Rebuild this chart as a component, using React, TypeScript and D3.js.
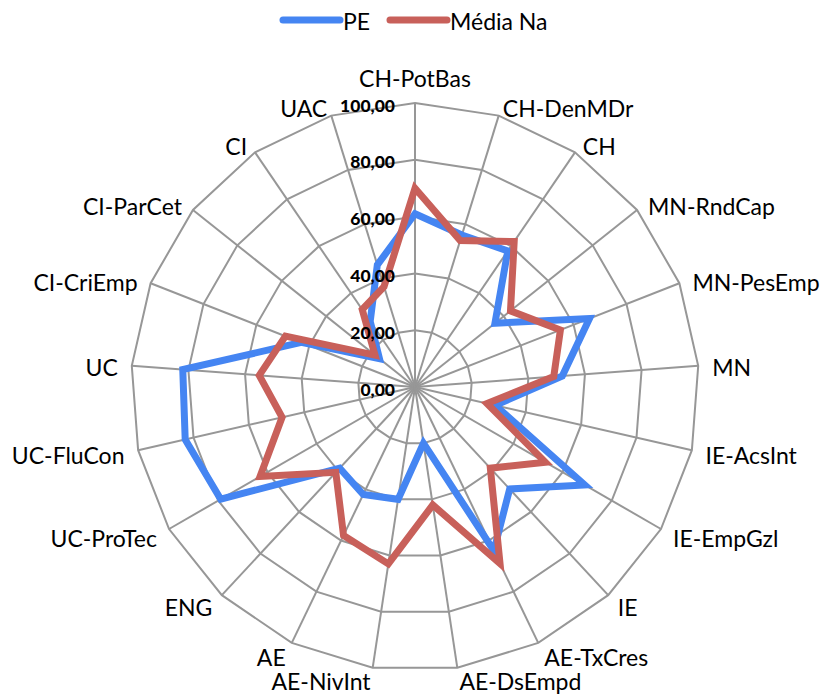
import React from 'react';
import * as d3 from 'd3';

// Indicator axes, clockwise from the top
const categories = [
  'CH-PotBas', 'CH-DenMDr', 'CH', 'MN-RndCap', 'MN-PesEmp', 'MN', 'IE-AcsInt',
  'IE-EmpGzl', 'IE', 'AE-TxCres', 'AE-DsEmpd', 'AE-NivInt', 'AE', 'ENG',
  'UC-ProTec', 'UC-FluCon', 'UC', 'CI-CriEmp', 'CI-ParCet', 'CI', 'UAC',
];

// Series values (0–100)
const pe = [61, 56, 58, 36, 66, 52, 29, 69, 49, 64, 20, 40, 42, 39, 79, 83, 82, 43, 16, 28, 45];
const mediaNa = [70, 54, 62, 43, 55, 49, 26, 53, 39, 69, 42, 63, 58, 41, 63, 48, 55, 49, 18, 33, 37];

// Radial axis ticks
const ticks = [0, 20, 40, 60, 80, 100];
const tickLabels = ['0,00', '20,00', '40,00', '60,00', '80,00', '100,00'];

const series = [
  { name: 'PE', values: pe, color: '#4585F2' },
  { name: 'Média Na', values: mediaNa, color: '#C8605A' },
];

const W = 827;
const H = 696;
const CX = 415;
const CY = 387;
const RADIUS = 284;
const FONT = 'Lato, "Open Sans", sans-serif';
const GRID = '#979797';
const LABEL_SIZE = 23;

export default function App() {
  const n = categories.length;
  const angle = d3.scaleLinear().domain([0, n]).range([0, 2 * Math.PI]);
  const r = d3.scaleLinear().domain([0, 100]).range([0, RADIUS]);

  const ringPath = (v: number) =>
    d3
      .lineRadial<string>()
      .angle((_, i) => angle(i))
      .radius(() => r(v))
      .curve(d3.curveLinearClosed)(categories) as string;

  const seriesPath = (vals: number[]) =>
    d3
      .lineRadial<number>()
      .angle((_, i) => angle(i))
      .radius((d) => r(d))
      .curve(d3.curveLinearClosed)(vals) as string;

  // lowest label centre that still keeps descenders inside the canvas
  const maxLabelY = H - CY - 15;

  return (
    <svg
      width={W}
      height={H}
      style={{ position: 'absolute', left: 0, top: 0, background: '#fff' }}
      fontFamily={FONT}
    >
      {/* Legend */}
      <g>
        <line x1={283} x2={340} y1={20} y2={20} stroke={series[0].color} strokeWidth={7} strokeLinecap="round" />
        <text x={343} y={21} dominantBaseline="central" fontSize={LABEL_SIZE} fill="#000">
          {series[0].name}
        </text>
        <line x1={390} x2={447} y1={20} y2={20} stroke={series[1].color} strokeWidth={7} strokeLinecap="round" />
        <text x={450} y={21} dominantBaseline="central" fontSize={LABEL_SIZE} fill="#000">
          {series[1].name}
        </text>
      </g>

      <g transform={`translate(${CX},${CY})`}>
        {/* Grid rings */}
        {ticks
          .filter((t) => t > 0)
          .map((t) => (
            <path key={t} d={ringPath(t)} fill="none" stroke={GRID} strokeWidth={2} />
          ))}
        {/* Spokes */}
        {categories.map((c, i) => {
          const a = angle(i);
          return (
            <line
              key={c}
              x1={0}
              y1={0}
              x2={r(100) * Math.sin(a)}
              y2={-r(100) * Math.cos(a)}
              stroke={GRID}
              strokeWidth={2}
            />
          );
        })}

        {/* Series */}
        {series.map((s) => (
          <path
            key={s.name}
            d={seriesPath(s.values)}
            fill="none"
            stroke={s.color}
            strokeWidth={7}
            strokeLinejoin="miter"
          />
        ))}

        {/* Radial tick labels */}
        {ticks.map((t, i) => (
          <text
            key={t}
            x={-20}
            y={-r(t) + 2}
            textAnchor="end"
            dominantBaseline="central"
            fontSize={17.5}
            fontWeight="900"
            fill="#000"
          >
            {tickLabels[i]}
          </text>
        ))}

        {/* Category labels */}
        {categories.map((c, i) => {
          const a = angle(i);
          const s = Math.sin(a);
          const co = Math.cos(a);
          const vx = r(100) * s;
          const vy = -r(100) * co;
          let anchor: 'start' | 'end' | 'middle' = 'middle';
          let x = vx;
          let y: number;
          if (Math.abs(s) < 0.05) {
            y = vy - 25;
          } else {
            anchor = s > 0 ? 'start' : 'end';
            x = vx + 14 * s;
            y = vy + (co > 0 ? 2 - 10 * co : 2 - 14 * co);
          }
          y = Math.min(y, maxLabelY);
          return (
            <text key={c} x={x} y={y} textAnchor={anchor} dominantBaseline="central" fontSize={LABEL_SIZE} fill="#000">
              {c}
            </text>
          );
        })}
      </g>
    </svg>
  );
}
